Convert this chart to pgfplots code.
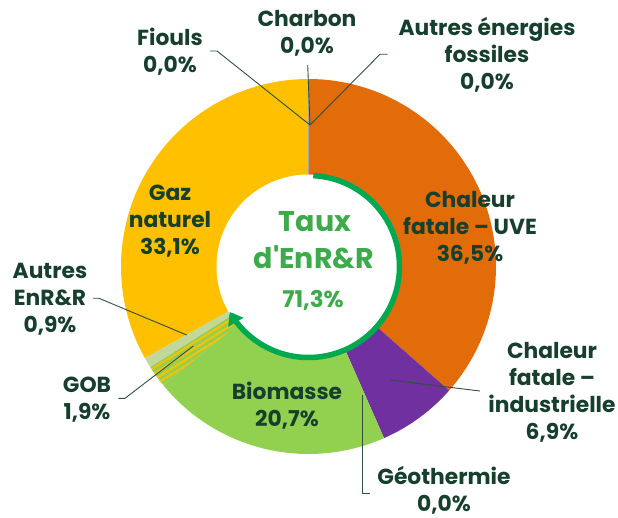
\documentclass[border=0pt]{standalone}
\usepackage{pgfplots}
\pgfplotsset{compat=1.18}
\usepackage{pgfplotstable}
\usepackage{fontspec}
\setmainfont{Poppins}
\usetikzlibrary{arrows.meta,patterns.meta}
\definecolor{cUVE}{HTML}{E36C0A}
\definecolor{cInd}{HTML}{7030A0}
\definecolor{cBio}{HTML}{92D050}
\definecolor{cGaz}{HTML}{FFC000}
\definecolor{cAut}{HTML}{C4D79B}
\definecolor{cArc}{HTML}{00A94F}
\definecolor{cTxt}{HTML}{173F2D}
\definecolor{cCen}{HTML}{3DAA4B}
\definecolor{cLine}{HTML}{2F4F3F}
\tikzset{
  lab/.style={align=center, inner sep=1pt, text=cTxt, font=\fontsize{21.8}{27}\selectfont\bfseries},
  ld/.style={draw=cLine, line width=0.9pt}}

\pgfplotstableread{
name share
UVE 36.5
Ind 6.9
Geo 0.0
Bio 20.7
GOB 1.9
Aut 0.9
Gaz 33.1
Fio 0.0
Cha 0.0
Afo 0.0
}\piedata

\begin{document}
\begin{tikzpicture}
\pgfplotstablegetelem{0}{share}\of\piedata\let\vUVE\pgfplotsretval
\pgfplotstablegetelem{1}{share}\of\piedata\let\vInd\pgfplotsretval
\pgfplotstablegetelem{2}{share}\of\piedata\let\vGeo\pgfplotsretval
\pgfplotstablegetelem{3}{share}\of\piedata\let\vBio\pgfplotsretval
\pgfplotstablegetelem{4}{share}\of\piedata\let\vGOB\pgfplotsretval
\pgfplotstablegetelem{5}{share}\of\piedata\let\vAut\pgfplotsretval
\pgfplotstablegetelem{6}{share}\of\piedata\let\vGaz\pgfplotsretval
\pgfmathsetmacro\aA{90}
\pgfmathsetmacro\aB{\aA-3.6*\vUVE}
\pgfmathsetmacro\aC{\aB-3.6*\vInd}
\pgfmathsetmacro\aD{\aC-3.6*\vGeo}
\pgfmathsetmacro\aE{\aD-3.6*\vBio}
\pgfmathsetmacro\aF{\aE-3.6*\vGOB}
\pgfmathsetmacro\aG{\aF-3.6*\vAut}
\pgfmathsetmacro\aH{\aG-3.6*\vGaz}
\def\cx{308.5}\def\cy{250.5}\def\Rout{187.5}\def\Rin{92}\def\Rarc{91}
\pgfmathsetmacro\yin{\cy+\Rin}
\pgfmathsetmacro\yout{\cy+\Rout}
\begin{axis}[hide axis, scale only axis, width=618pt, height=517pt,
  xmin=0, xmax=618, ymin=0, ymax=517, clip=false]
\path (axis cs:0,0) rectangle (axis cs:618,517);
% wedges
\addplot[fill=cUVE, draw=none, domain=\aB:\aA, samples=100, variable=\t] ({\cx+\Rout*cos(\t)},{\cy+\Rout*sin(\t)}) -- (axis cs:\cx,\cy) -- cycle;
\addplot[fill=cInd, draw=none, domain=\aC:\aB, samples=40, variable=\t] ({\cx+\Rout*cos(\t)},{\cy+\Rout*sin(\t)}) -- (axis cs:\cx,\cy) -- cycle;
\addplot[fill=cBio, draw=none, domain=\aE:\aD, samples=80, variable=\t] ({\cx+\Rout*cos(\t)},{\cy+\Rout*sin(\t)}) -- (axis cs:\cx,\cy) -- cycle;
\addplot[fill=cBio, draw=none, domain=\aF:\aE, samples=20, variable=\t] ({\cx+\Rout*cos(\t)},{\cy+\Rout*sin(\t)}) -- (axis cs:\cx,\cy) -- cycle;
\addplot[pattern={Lines[angle=32,distance=5pt,line width=2pt]}, pattern color=cGaz, draw=none, domain=\aF:\aE, samples=20, variable=\t] ({\cx+\Rout*cos(\t)},{\cy+\Rout*sin(\t)}) -- (axis cs:\cx,\cy) -- cycle;
\addplot[fill=cAut, draw=none, domain=\aG:\aF, samples=20, variable=\t] ({\cx+\Rout*cos(\t)},{\cy+\Rout*sin(\t)}) -- (axis cs:\cx,\cy) -- cycle;
\addplot[fill=cGaz, draw=none, domain=\aH:\aG, samples=100, variable=\t] ({\cx+\Rout*cos(\t)},{\cy+\Rout*sin(\t)}) -- (axis cs:\cx,\cy) -- cycle;
% zero slices at the top
\draw[draw=gray!70, line width=1.2pt] (axis cs:\cx,\yin) -- (axis cs:\cx,\yout);
% hole
\addplot[fill=white, draw=none, domain=0:360, samples=150, variable=\t] ({\cx+\Rin*cos(\t)},{\cy+\Rin*sin(\t)}) -- cycle;
% EnR&R arc
\addplot[draw=cArc, line width=5.5pt, domain=-150:87, samples=120, variable=\t, {Triangle[width=17pt,length=12pt]}-] ({\cx+\Rarc*cos(\t)},{\cy+\Rarc*sin(\t)});
% leader lines (image y -> 517-y)
\draw[ld] (axis cs:210,466) -- (axis cs:217,466) -- (axis cs:310,392);
\draw[ld] (axis cs:307.7,452) -- (axis cs:310,392);
\draw[ld] (axis cs:387.7,462.7) -- (axis cs:380,462.7) -- (axis cs:310,392);
\draw[ld] (axis cs:93,218.7) -- (axis cs:99,218.7) -- (axis cs:186.7,182);
\draw[ld] (axis cs:118.3,118.7) -- (axis cs:125,118.7) -- (axis cs:193.3,171);
\draw[ld] (axis cs:390,137) -- (axis cs:480,126);
\draw[ld] (axis cs:362.7,122) -- (axis cs:362.7,23.7) -- (axis cs:370,23.7);
% labels
\node[lab] at (axis cs:170,465.5) {Fiouls\\0,0\%};
\node[lab] at (axis cs:307,484) {Charbon\\0,0\%};
\node[lab] at (axis cs:487,462) {Autres énergies\\fossiles\\0,0\%};
\node[lab] at (axis cs:470,289) {Chaleur\\fatale – UVE\\36,5\%};
\node[lab] at (axis cs:170,296) {Gaz\\naturel\\33,1\%};
\node[lab] at (axis cs:50,218) {Autres\\EnR\&R\\0,9\%};
\node[lab] at (axis cs:87,117) {GOB\\1,9\%};
\node[lab] at (axis cs:287,111) {Biomasse\\20,7\%};
\node[lab] at (axis cs:552,125) {Chaleur\\fatale –\\industrielle\\6,9\%};
\node[lab] at (axis cs:444,27) {Géothermie\\0,0\%};
% centre
\node[text=cCen, font=\fontsize{28.5}{32}\selectfont\bfseries] at (axis cs:315,295) {Taux};
\node[text=cCen, font=\fontsize{28.5}{32}\selectfont\bfseries] at (axis cs:314,260) {d\textquotesingle EnR\&R};
\node[text=cCen, font=\fontsize{23}{26}\selectfont\bfseries] at (axis cs:313,217) {71,3\%};
\end{axis}
\end{tikzpicture}
\end{document}
